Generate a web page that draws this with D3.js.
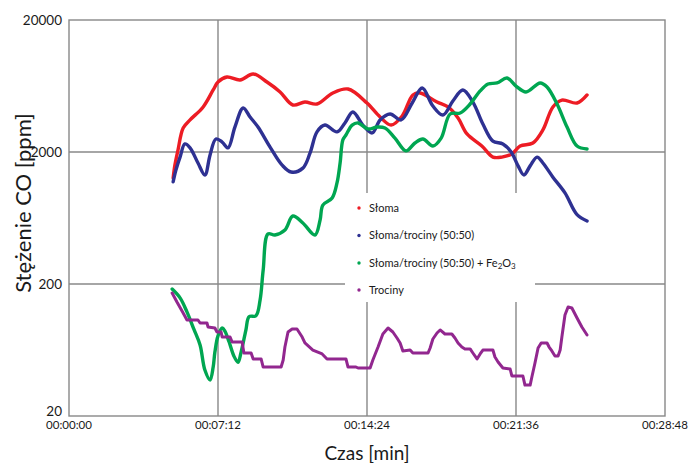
<!DOCTYPE html>
<html>
<head>
<meta charset="utf-8">
<script src="https://cdn.jsdelivr.net/npm/d3@7"></script>
<style>
body { margin: 0; background: #fff; }
text { font-family: Lato, "Open Sans", sans-serif; fill: #1a1a1a; }
</style>
</head>
<body>
<script>
var width = 690, height = 463;
var margin = {top: 20, right: 25, bottom: 47, left: 69};

// [czas w s, stezenie CO w ppm]
var sloma = [[302,1270],[307,1590],[316,2070],[331,3040],[351,3500],[389,4390],[418,5900],[432,6780],[458,7400],[496,7020],[534,7800],[574,6780],[612,5700],[649,4540],[684,4780],[719,4620],[765,5600],[809,6000],[864,4700],[902,3680],[934,3200],[966,3750],[997,5410],[1018,5600],[1067,4780],[1099,4390],[1128,3620],[1154,2740],[1197,2220],[1229,1830],[1255,1830],[1284,1930],[1308,2220],[1345,2340],[1374,2940],[1403,4390],[1429,4950],[1473,4700],[1502,5410]];

var slomaTrociny = [[302,1190],[310,1460],[322,1830],[336,2300],[351,2150],[374,1650],[394,1340],[409,1900],[426,2510],[444,2380],[461,2150],[481,3090],[505,4310],[525,3680],[548,3090],[583,2180],[618,1590],[644,1410],[678,1510],[699,1970],[719,2840],[742,3200],[777,2840],[800,3320],[823,4020],[852,3200],[879,2790],[902,3500],[931,3880],[963,3500],[995,4700],[1024,6110],[1055,4460],[1084,3810],[1113,4870],[1142,5900],[1171,4780],[1200,3260],[1229,2420],[1258,2300],[1282,2000],[1302,1570],[1319,1340],[1337,1570],[1357,1830],[1374,1650],[1403,1290],[1438,980],[1473,670],[1502,600]];

var slomaTrocinyFe = [[299,183],[322,157],[342,123],[362,91],[380,69],[394,44.6],[409,37.5],[418,47],[423,61],[432,81],[444,93],[452,88],[464,73],[478,57],[490,51],[499,61],[513,90],[522,113],[542,115],[554,151],[563,255],[577,479],[597,470],[626,513],[649,655],[678,580],[713,470],[728,611],[736,793],[763,897],[777,1165],[786,1650],[794,2470],[803,2690],[821,3200],[838,3320],[867,2990],[893,3090],[916,3040],[945,2550],[977,2040],[1003,2340],[1026,2510],[1055,2220],[1079,2550],[1105,3880],[1134,3950],[1163,4620],[1192,5800],[1215,6550],[1241,6670],[1270,7270],[1296,6320],[1325,5700],[1366,6670],[1386,6220],[1415,4620],[1444,3090],[1473,2220],[1502,2110]];

var trociny = [[299,171],[313,146],[331,120.6],[342,106.7],[374,106.7],[380,101.3],[400,101.3],[403,94.5],[423,92.8],[429,86.6],[441,86.6],[444,79.3],[467,79.3],[473,72.7],[502,72.7],[507,60],[528,60],[534,54.1],[557,54.1],[563,47],[615,47],[621,53.1],[626,66.6],[635,86.6],[647,91.2],[661,91.2],[676,79.3],[684,71.5],[707,63.2],[734,59],[748,54.1],[803,54.1],[809,47],[832,47],[838,46.2],[873,46.2],[881,53.1],[896,66.6],[910,83.6],[925,92.8],[939,86.6],[951,78],[960,71.5],[968,62.2],[989,63.2],[997,60],[1041,60],[1047,65.5],[1055,76.6],[1067,85.1],[1076,89.7],[1090,83.6],[1110,83.6],[1119,78],[1128,71.5],[1139,66.6],[1148,64.4],[1163,64.4],[1171,60],[1183,54.1],[1192,59],[1200,63.2],[1229,63.2],[1235,56],[1244,51.3],[1258,46.2],[1279,45.4],[1284,40.2],[1316,40.2],[1322,34.3],[1337,34.3],[1342,39.5],[1351,50.4],[1360,65.5],[1369,71.5],[1386,71.5],[1392,66.6],[1400,62.2],[1409,57],[1418,57],[1424,63.2],[1429,79.3],[1438,116.5],[1447,133.9],[1458,131.6],[1473,110.5],[1487,94.5],[1502,82.2]];

var seriesNames = ["Słoma", "Słoma/trociny (50:50)", "Słoma/trociny (50:50) + Fe", "Trociny"];
var seriesColors = ["#ed1c24", "#2e3192", "#00a651", "#92278f"];
var xTicks = [0, 432, 864, 1296, 1728];
var yTicks = [20, 200, 2000, 20000];

var svg = d3.select("body").append("svg")
    .attr("width", width)
    .attr("height", height);

var x = d3.scaleLinear().domain([0, 1728]).range([margin.left, width - margin.right]);
var y = d3.scaleLog().domain([20, 20000]).range([height - margin.bottom, margin.top]);

function hms(s) {
    var h = Math.floor(s / 3600), m = Math.floor(s % 3600 / 60), sec = s % 60;
    return [h, m, sec].map(function(v) { return (v < 10 ? "0" : "") + v; }).join(":");
}

// siatka
var grid = svg.append("g").attr("stroke", "#888").attr("stroke-width", 1.4);
grid.selectAll(".vx").data(xTicks.slice(1, -1)).enter().append("line")
    .attr("x1", function(d) { return x(d); }).attr("x2", function(d) { return x(d); })
    .attr("y1", y(20000)).attr("y2", y(20));
grid.selectAll(".hy").data(yTicks.slice(1, -1)).enter().append("line")
    .attr("x1", x(0)).attr("x2", x(1728))
    .attr("y1", function(d) { return y(d); }).attr("y2", function(d) { return y(d); });

// tlo legendy
svg.append("rect")
    .attr("x", 345).attr("y", 193).attr("width", 190).attr("height", 109)
    .attr("fill", "#fff");

var line = d3.line()
    .x(function(d) { return x(d[0]); })
    .y(function(d) { return y(d[1]); });

var allSeries = [sloma, slomaTrociny, slomaTrocinyFe, trociny];
allSeries.forEach(function(s, i) {
    svg.append("path")
        .datum(s)
        .attr("fill", "none")
        .attr("stroke", seriesColors[i])
        .attr("stroke-width", i == 3 ? 3 : 3.4)
        .attr("stroke-linejoin", "round")
        .attr("stroke-linecap", "round")
        .attr("d", line.curve(i == 3 ? d3.curveLinear : d3.curveCatmullRom)(s));
});

// ramka
svg.append("rect")
    .attr("x", x(0)).attr("y", y(20000))
    .attr("width", x(1728) - x(0)).attr("height", y(20) - y(20000))
    .attr("fill", "none").attr("stroke", "#888").attr("stroke-width", 1.4);

// opisy osi
svg.selectAll(".ylab").data(yTicks).enter().append("text")
    .attr("x", x(0) - 7)
    .attr("y", function(d) { return d == 20 ? y(d) - 5 : y(d); })
    .attr("dy", "0.35em")
    .attr("text-anchor", "end")
    .style("font-size", "13.5px")
    .text(function(d) { return d; });

svg.selectAll(".xlab").data(xTicks).enter().append("text")
    .attr("x", function(d) { return x(d); })
    .attr("y", 429)
    .attr("text-anchor", "middle")
    .style("font-size", "11.5px")
    .text(hms);

svg.append("text")
    .attr("x", 367).attr("y", 460)
    .attr("text-anchor", "middle")
    .style("font-size", "19px")
    .text("Czas [min]");

svg.append("text")
    .attr("transform", "translate(31,203) rotate(-90)")
    .attr("text-anchor", "middle")
    .style("font-size", "22px")
    .text("Stężenie CO [ppm]");

// legenda
var legY = [208, 235.5, 263, 290];
var leg = svg.selectAll(".leg").data(seriesNames).enter().append("g")
    .attr("transform", function(d, i) { return "translate(359," + legY[i] + ")"; });
leg.append("circle").attr("r", 1.7).attr("fill", function(d, i) { return seriesColors[i]; });
var lt = leg.append("text")
    .attr("x", 10).attr("dy", "0.35em")
    .style("font-size", "11px")
    .text(function(d) { return d; });
var feText = lt.filter(function(d, i) { return i == 2; });
feText.append("tspan").attr("baseline-shift", "-25%").style("font-size", "8px").text("2");
feText.append("tspan").text("O");
feText.append("tspan").attr("baseline-shift", "-25%").style("font-size", "8px").text("3");
</script>
</body>
</html>
